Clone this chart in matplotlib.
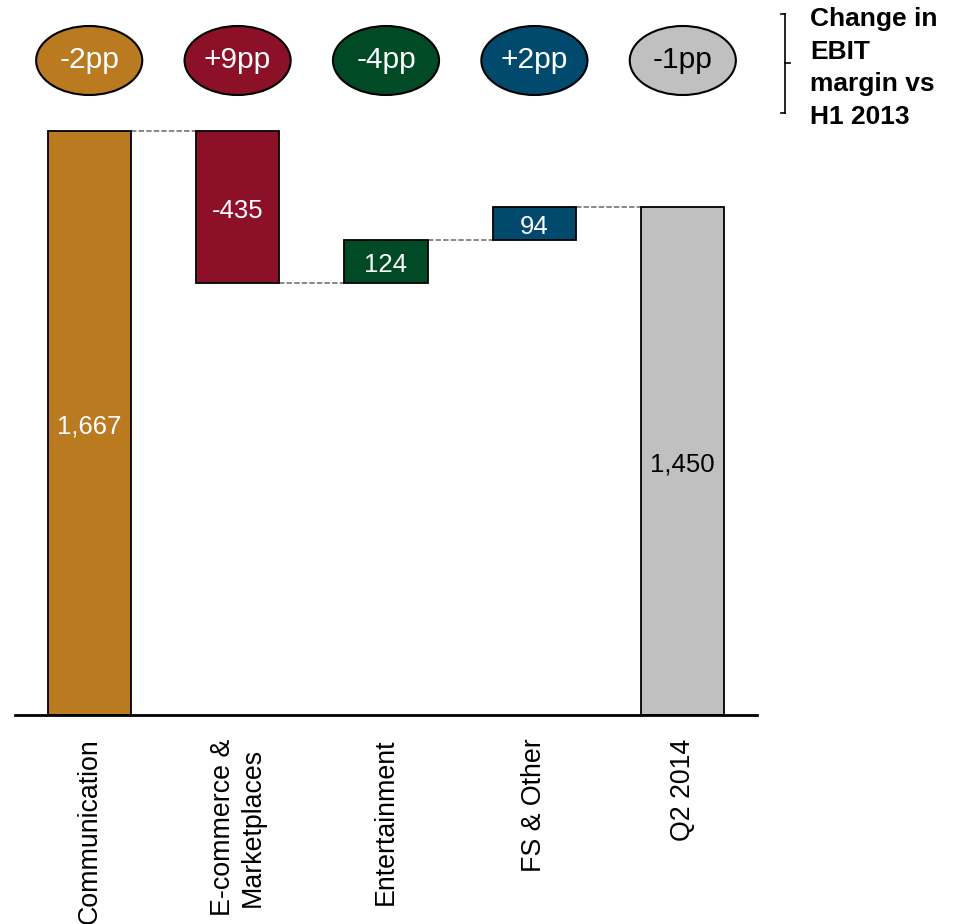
import numpy as np
import matplotlib.pyplot as plt
from matplotlib.patches import Ellipse
from matplotlib.transforms import blended_transform_factory

plt.rcParams['font.family'] = ['Liberation Sans', 'DejaVu Sans']

categories = ["Communication", "E-commerce &\nMarketplaces", "Entertainment", "FS & Other", "Q2 2014"]
values = [1667, -435, 124, 94, 1450]
value_labels = ["1,667", "-435", "124", "94", "1,450"]
margin_change = ["-2pp", "+9pp", "-4pp", "+2pp", "-1pp"]
colors = ["#BA7A20", "#8C1028", "#004A26", "#014A6E", "#C0C0C0"]
text_colors = ["white", "white", "white", "white", "black"]

# waterfall bottoms: first and last bars start at zero
bottoms = []
heights = []
running = 0
for i, v in enumerate(values):
    if i == 0 or i == len(values) - 1:
        bottoms.append(0)
        heights.append(v)
        running = v
    else:
        new = running + v
        bottoms.append(min(running, new))
        heights.append(abs(v))
        running = new

fig = plt.figure(figsize=(9.59, 9.24), dpi=100)
ax = fig.add_axes([15/959, 1 - 715/924, 742/959, 615/924])

x = np.arange(len(categories))
ax.bar(x, heights, bottom=bottoms, width=0.56, color=colors, edgecolor="black", linewidth=1.3, zorder=3)

# connector lines
levels = []
running = 0
for i, v in enumerate(values[:-1]):
    running = v if i == 0 else running + v
    levels.append(running)
for i, lev in enumerate(levels):
    ax.plot([i + 0.28, i + 1 - 0.28], [lev, lev], color="#7F7F7F", linestyle=(0, (3, 1.2)),
            linewidth=1.3, zorder=2)

# value labels
for i in range(len(values)):
    ax.text(x[i], bottoms[i] + heights[i] / 2 - 10, value_labels[i], ha="center", va="center",
            color=text_colors[i], fontsize=18.5, zorder=4)

# margin change ellipses
tr = blended_transform_factory(ax.transData, fig.transFigure)
for i in range(len(values)):
    e = Ellipse((x[i], 1 - 60.5/924), 0.715, 69/924, transform=tr, facecolor=colors[i],
                edgecolor="black", linewidth=1.5, clip_on=False)
    fig.add_artist(e)
    t = fig.text(0, 0, margin_change[i], transform=tr, color=text_colors[i], fontsize=21.5,
                 ha="center", va="center")
    t.set_position((x[i], 1 - 60.5/924))

ax.set_xlim(-0.5, 4.5)
ax.set_ylim(0, 1755)
ax.set_yticks([])
ax.set_xticks(x)
ax.set_xticklabels(categories, rotation=90, fontsize=19.3, va="top", ha="center", multialignment="center")
ax.tick_params(axis="x", length=0, pad=17)
for s in ["top", "right", "left"]:
    ax.spines[s].set_visible(False)
ax.spines["bottom"].set_linewidth(2)
ax.spines["bottom"].set_zorder(5)

# bracket and side note
bx = 785 / 959
fig.add_artist(plt.Line2D([bx, bx], [1 - 14/924, 1 - 113/924], color="black", linewidth=1.2))
fig.add_artist(plt.Line2D([781/959, bx], [1 - 14/924, 1 - 14/924], color="black", linewidth=1.2))
fig.add_artist(plt.Line2D([781/959, bx], [1 - 113/924, 1 - 113/924], color="black", linewidth=1.2))
fig.add_artist(plt.Line2D([bx, 790/959], [1 - 63/924, 1 - 63/924], color="black", linewidth=1.2))
fig.text(810/959, 1 - 7/924, "Change in\nEBIT\nmargin vs\nH1 2013", fontsize=19, fontweight="bold",
         ha="left", va="top", linespacing=1.45)

fig.savefig("out.png", dpi=100)
